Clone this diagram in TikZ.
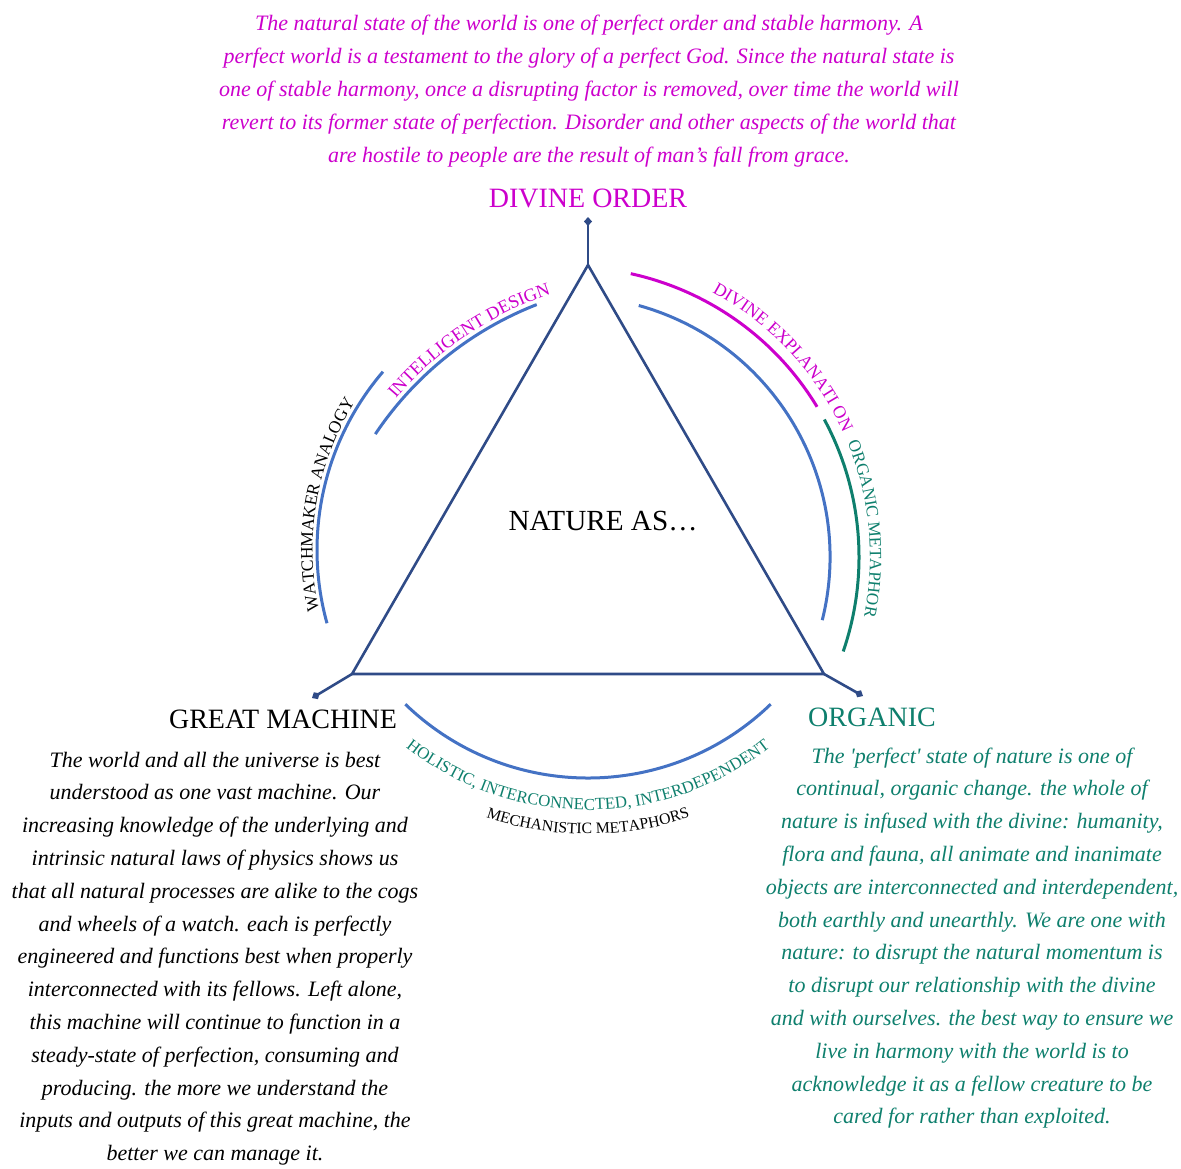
\documentclass[tikz,border=0pt]{standalone}
\usepackage{fontspec}
\setmainfont{Liberation Serif}
\usetikzlibrary{decorations.text,arrows.meta}
\definecolor{mag}{HTML}{CC00CC}
\definecolor{orgteal}{HTML}{0E7F6D}
\definecolor{arcblue}{HTML}{4472C4}
\definecolor{triblue}{HTML}{2F4B87}
\begin{document}
\begin{tikzpicture}[x=0.5pt,y=0.5pt,
  tri/.style={draw=triblue, line width=1.3pt},
  tipline/.style={tri, -{Diamond[length=4.5pt,width=4pt]}},
  barc/.style={draw=arcblue, line width=1.5pt},
  marc/.style={draw=mag, line width=1.5pt},
  tarc/.style={draw=orgteal, line width=1.5pt},
  head/.style={inner sep=0pt, font=\fontsize{14}{16}\selectfont},
  para/.style={inner sep=0pt, align=center, font=\fontsize{11}{16.4}\selectfont\itshape},
  arclabel/.style={decorate, decoration={text along path, text align=center}}
]
\useasboundingbox (0,0) rectangle (1181,-1168);

% centres of the arcs
\coordinate (Cw) at (591,-550);
\coordinate (Ci) at (662,-626);
\coordinate (Cr) at (569,-557);
\coordinate (Cb) at (588,-515);

% triangle
\coordinate (T) at (588,-265);
\coordinate (BL) at (352,-674);
\coordinate (BR) at (824,-674);
\coordinate (Te) at (588,-217);
\coordinate (BLe) at (312,-698);
\coordinate (BRe) at (863,-696);
\draw[tri] (T) -- (BL) -- (BR) -- cycle;
\draw[tipline] (T) -- (Te);
\draw[tipline] (BL) -- (BLe);
\draw[tipline] (BR) -- (BRe);

% arcs
\draw[barc] (Cw) ++(195.5:274) arc[start angle=195.5, end angle=139.4, radius=137pt];
\draw[barc] (Ci) ++(146.2:345) arc[start angle=146.2, end angle=111.3, radius=172.5pt];
\draw[barc] (Cr) ++(74.5:261) arc[start angle=74.5, end angle=-14, radius=130.5pt];
\draw[marc] (Cr) ++(77.7:290) arc[start angle=77.7, end angle=31.2, radius=145pt];
\draw[tarc] (Cr) ++(28.3:290) arc[start angle=28.3, end angle=-19, radius=145pt];
\draw[barc] (Cb) ++(226:263) arc[start angle=226, end angle=314, radius=131.5pt];

% arc labels
\path[arclabel, decoration={text={|\fontsize{8.7}{10}\selectfont|WATCHMAKER ANALOGY}, text color=black}]
  (Cw) ++(200:278.5) arc[start angle=200, end angle=140.4, radius=139.25pt];
\path[arclabel, decoration={text={|\fontsize{9.1}{10}\selectfont|INTELLIGENT DESIGN}, text color=mag}]
  (Ci) ++(144:350) arc[start angle=144, end angle=104, radius=175pt];
\path[arclabel, decoration={text={|\fontsize{8.9}{10}\selectfont|DIVINE EXPLANATI ON}, text color=mag}]
  (Cr) ++(66:301) arc[start angle=66, end angle=20, radius=150.5pt];
\path[arclabel, decoration={text={|\fontsize{8.6}{10}\selectfont|ORGANIC METAPHOR}, text color=orgteal}]
  (Cr) ++(25:301) arc[start angle=25, end angle=-14.1, radius=150.5pt];
\path[arclabel, decoration={text={|\fontsize{8.4}{10}\selectfont|HOLISTIC, INTERCONNECTED, INTERDEPENDENT}, text color=orgteal}]
  (Cb) ++(225:295) arc[start angle=225, end angle=315, radius=147.5pt];
\path[arclabel, decoration={text={|\fontsize{7.9}{10}\selectfont|MECHANISTIC METAPHORS}, text color=black}]
  (Cb) ++(240:319) arc[start angle=240, end angle=300, radius=159.5pt];

% headings
\node[head, text=mag] (divine) at (588,-198) {DIVINE ORDER};
\node[head, text=black, font=\fontsize{14.6}{16}\selectfont] (nature) at (603,-521) {NATURE AS…};
\node[head, text=black] (machine) at (283,-719) {GREAT MACHINE};
\node[head, text=orgteal] (organic) at (872,-717) {ORGANIC};

% paragraphs
\node[para, text=mag, font=\fontsize{11}{16.5}\selectfont\itshape] (divtext) at (589,-91) {%
The natural state of the world is one of perfect order and stable harmony. A\\
perfect world is a testament to the glory of a perfect God. Since the natural state is\\
one of stable harmony, once a disrupting factor is removed, over time the world will\\
revert to its former state of perfection. Disorder and other aspects of the world that\\
are hostile to people are the result of man’s fall from grace.};

\node[para, text=black] (machtext) at (215,-958.5) {%
The world and all the universe is best\\
understood as one vast machine. Our\\
increasing knowledge of the underlying and\\
intrinsic natural laws of physics shows us\\
that all natural processes are alike to the cogs\\
and wheels of a watch. each is perfectly\\
engineered and functions best when properly\\
interconnected with its fellows. Left alone,\\
this machine will continue to function in a\\
steady-state of perfection, consuming and\\
producing. the more we understand the\\
inputs and outputs of this great machine, the\\
better we can manage it.};

\node[para, text=orgteal] (orgtext) at (972,-938) {%
The \textquotesingle perfect\textquotesingle{} state of nature is one of\\
continual, organic change. the whole of\\
nature is infused with the divine: humanity,\\
flora and fauna, all animate and inanimate\\
objects are interconnected and interdependent,\\
both earthly and unearthly. We are one with\\
nature: to disrupt the natural momentum is\\
to disrupt our relationship with the divine\\
and with ourselves. the best way to ensure we\\
live in harmony with the world is to\\
acknowledge it as a fellow creature to be\\
cared for rather than exploited.};
\end{tikzpicture}
\end{document}
